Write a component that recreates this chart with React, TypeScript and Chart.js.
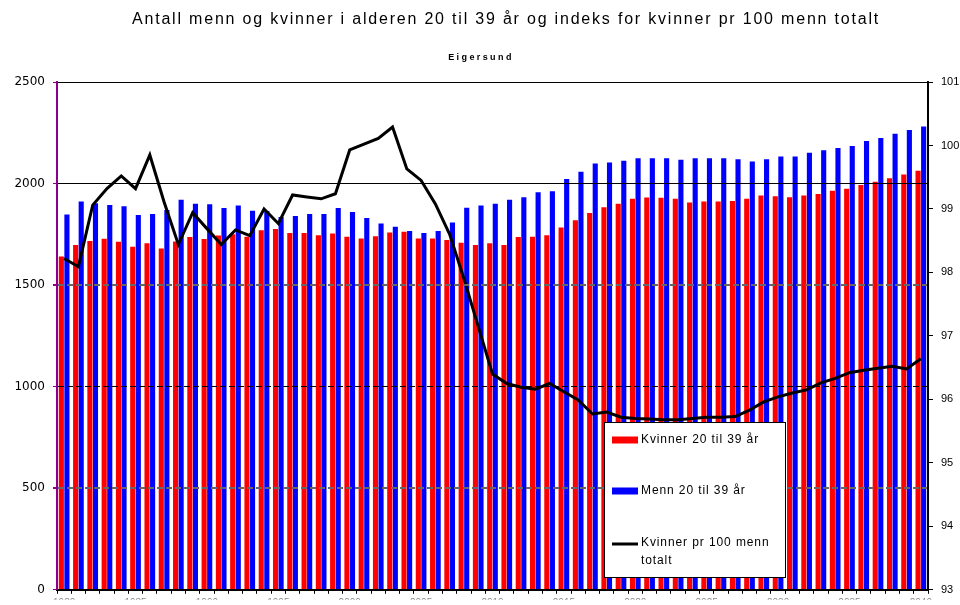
import React, { useEffect, useRef } from "react";
import { Chart, registerables } from "chart.js";

Chart.register(...registerables);

const years = [
  "1980", "1981", "1982", "1983", "1984", "1985", "1986", "1987", "1988", "1989",
  "1990", "1991", "1992", "1993", "1994", "1995", "1996", "1997", "1998", "1999",
  "2000", "2001", "2002", "2003", "2004", "2005", "2006", "2007", "2008", "2009",
  "2010", "2011", "2012", "2013", "2014", "2015", "2016", "2017", "2018", "2019",
  "2020", "2021", "2022", "2023", "2024", "2025", "2026", "2027", "2028", "2029",
  "2030", "2031", "2032", "2033", "2034", "2035", "2036", "2037", "2038", "2039",
  "2040",
];

const kvinner = [
  1641, 1698, 1717, 1728, 1714, 1689, 1706, 1680, 1715, 1737,
  1727, 1744, 1750, 1738, 1770, 1776, 1756, 1757, 1746, 1754,
  1738, 1730, 1741, 1759, 1763, 1730, 1730, 1722, 1709, 1697,
  1706, 1697, 1737, 1738, 1746, 1784, 1819, 1855, 1883, 1901,
  1925, 1931, 1930, 1925, 1907, 1912, 1912, 1914, 1925, 1941,
  1938, 1933, 1941, 1949, 1964, 1974, 1993, 2009, 2026, 2044,
  2063,
];

const menn = [
  1848, 1912, 1903, 1895, 1888, 1845, 1850, 1870, 1920, 1901,
  1898, 1880, 1892, 1866, 1865, 1835, 1840, 1850, 1850, 1880,
  1860, 1831, 1803, 1787, 1766, 1756, 1766, 1808, 1881, 1892,
  1901, 1920, 1933, 1957, 1962, 2022, 2058, 2099, 2104, 2112,
  2125, 2125, 2125, 2117, 2125, 2125, 2125, 2120, 2108, 2120,
  2133, 2133, 2152, 2164, 2175, 2185, 2209, 2224, 2245, 2264,
  2281,
];

const indeks = [
  98.22, 98.09, 99.06, 99.32, 99.52, 99.32, 99.85, 99.11, 98.44, 98.94,
  98.69, 98.44, 98.67, 98.58, 99.0, 98.77, 99.22, 99.19, 99.16, 99.24,
  99.93, 100.02, 100.11, 100.29, 99.63, 99.45, 99.08, 98.6, 97.9, 97.15,
  96.4, 96.25, 96.19, 96.16, 96.25, 96.12, 95.99, 95.77, 95.8, 95.72,
  95.7, 95.69, 95.68, 95.68, 95.7, 95.72, 95.72, 95.73, 95.83, 95.96,
  96.04, 96.1, 96.15, 96.26, 96.33, 96.42, 96.46, 96.49, 96.52, 96.48,
  96.64,
];

const titleText = "Antall menn og kvinner i alderen 20 til 39 år og indeks for kvinner pr 100 menn totalt";
const subtitleText = "Eigersund";
const seriesLabels = ["Kvinner 20 til 39 år", "Menn 20 til 39 år", "Kvinner pr 100 menn totalt"];
const legendLines = [["Kvinner 20 til 39 år"], ["Menn 20 til 39 år"], ["Kvinner pr 100 menn", "totalt"]];

const RED = "#FF0000";
const BLUE = "#0000FF";
const PURPLE = "#8A008A";

const overlayPlugin = {
  id: "overlay",
  afterDraw(chart: any) {
    const ctx = chart.ctx as CanvasRenderingContext2D;
    ctx.save();
    ctx.fillStyle = "#000";
    ctx.textAlign = "center";
    ctx.textBaseline = "middle";
    ctx.font = '16px "Liberation Sans", Arial, sans-serif';
    (ctx as any).letterSpacing = "1.8px";
    ctx.fillText(titleText, 506, 20);
    ctx.font = 'bold 9px "Liberation Sans", Arial, sans-serif';
    (ctx as any).letterSpacing = "2.4px";
    ctx.fillText(subtitleText, 481, 58);

    // legend box
    const bx = 604, by = 422, bw = 181, bh = 155;
    ctx.fillStyle = "#fff";
    ctx.fillRect(bx, by, bw, bh);
    ctx.strokeStyle = "#000";
    ctx.lineWidth = 1;
    ctx.strokeRect(bx + 0.5, by + 0.5, bw, bh);

    const rows = [440, 491, 543];
    ctx.textAlign = "left";
    ctx.font = '12px "Liberation Sans", Arial, sans-serif';
    (ctx as any).letterSpacing = "0.9px";
    chart.data.datasets.forEach((ds: any, i: number) => {
      const y = rows[i];
      if (ds.type === "line") {
        ctx.strokeStyle = ds.borderColor;
        ctx.lineWidth = 3;
        ctx.beginPath();
        ctx.moveTo(612, y + 1);
        ctx.lineTo(638, y + 1);
        ctx.stroke();
      } else {
        ctx.fillStyle = ds.backgroundColor;
        ctx.fillRect(612, y - 3.5, 26, 7);
      }
      ctx.fillStyle = "#000";
      legendLines[i].forEach((t, k) => {
        ctx.fillText(t, 641, y + k * 18);
      });
    });
    ctx.restore();
  },
};

export default function App() {
  const ref = useRef<HTMLCanvasElement>(null);
  useEffect(() => {
    if (!ref.current) return;
    const gridColor = (c: any) => {
      const v = c.tick ? c.tick.value : null;
      if (v === 0) return "rgba(0,0,0,0)";
      if (v === 1500 || v === 500) return "#666";
      return "#000";
    };
    const chart = new Chart(ref.current, {
      type: "bar",
      data: {
        labels: years,
        datasets: [
          {
            type: "bar",
            label: seriesLabels[0],
            data: kvinner,
            backgroundColor: RED,
            yAxisID: "y",
            order: 2,
            categoryPercentage: 0.78,
            barPercentage: 0.92,
          },
          {
            type: "bar",
            label: seriesLabels[1],
            data: menn,
            backgroundColor: BLUE,
            yAxisID: "y",
            order: 2,
            categoryPercentage: 0.78,
            barPercentage: 0.92,
          },
          {
            type: "line",
            label: seriesLabels[2],
            data: indeks,
            borderColor: "#000",
            backgroundColor: "#000",
            borderWidth: 3,
            pointRadius: 0,
            tension: 0,
            yAxisID: "y1",
            order: 0,
          } as any,
        ],
      },
      options: {
        responsive: false,
        animation: false,
        layout: { padding: { top: 82, left: 0, right: 0, bottom: 0 } },
        plugins: {
          legend: { display: false },
          title: { display: false },
          tooltip: { enabled: false },
        },
        scales: {
          x: {
            offset: true,
            grid: {
              display: true,
              drawOnChartArea: false,
              drawTicks: true,
              tickLength: 4,
              tickColor: "#000",
              offset: true,
            },
            border: { color: "#000", width: 2, z: 2 },
            ticks: {
              autoSkip: false,
              maxRotation: 0,
              minRotation: 0,
              padding: 3,
              color: "#888",
              font: { size: 10, family: '"Liberation Sans", Arial, sans-serif' },
              callback: (_v: any, i: number) => (Number(years[i]) % 5 === 0 ? years[i] : ""),
            },
            afterFit: (s: any) => {
              s.height = 10;
            },
          },
          y: {
            position: "left",
            min: 0,
            max: 2500,
            ticks: {
              stepSize: 500,
              padding: 8,
              color: "#000",
              font: { size: 12, family: '"DejaVu Sans", sans-serif' },
              callback: (v: any) => String(v),
            },
            grid: {
              color: gridColor,
              lineWidth: (c: any) => (c.tick && (c.tick.value === 1500 || c.tick.value === 500) ? 2 : 1),
              tickColor: PURPLE,
              tickLength: 4,
              z: 1,
            },
            border: {
              color: PURPLE,
              width: 2,
              z: 2,
              dash: (c: any) => {
                const v = c.tick ? c.tick.value : null;
                if (v === 1500 || v === 1000 || v === 500) return [6, 3];
                return [];
              },
            },
            afterFit: (s: any) => {
              s.width = 57;
            },
          },
          y1: {
            position: "right",
            min: 93,
            max: 101,
            ticks: {
              stepSize: 1,
              padding: 8,
              color: "#000",
              font: { size: 11, family: '"Liberation Sans", Arial, sans-serif' },
            },
            grid: {
              drawOnChartArea: false,
              tickColor: "#000",
              tickLength: 5,
            },
            border: { color: "#000", width: 2, z: 2 },
            afterFit: (s: any) => {
              s.width = 32;
            },
          },
        },
      } as any,
      plugins: [overlayPlugin],
    });
    return () => chart.destroy();
  }, []);

  return (
    <div
      style={{
        position: "absolute",
        left: 0,
        top: 0,
        width: 960,
        height: 605,
        overflow: "hidden",
        background: "#fff",
      }}
    >
      <canvas ref={ref} width={960} height={605} style={{ display: "block" }} />
    </div>
  );
}
